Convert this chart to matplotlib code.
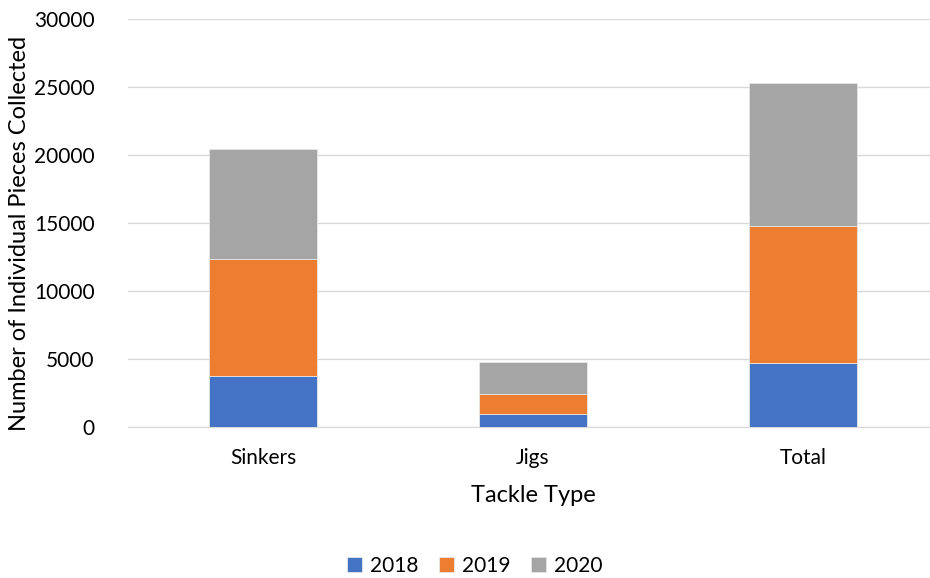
import matplotlib.pyplot as plt
import numpy as np

plt.rcParams['font.family'] = ['Lato', 'DejaVu Sans']

categories = ['Sinkers', 'Jigs', 'Total']
years = ['2018', '2019', '2020']
vals_2018 = [3750, 950, 4700]
vals_2019 = [8630, 1450, 10100]
vals_2020 = [8040, 2400, 10500]
colors = ['#4472C4', '#ED7D31', '#A5A5A5']

fig = plt.figure(figsize=(9.30, 5.78), dpi=100)
ax = fig.add_axes([128 / 930, 1 - 427 / 578, (930 - 128) / 930, (427 - 19) / 578])

x = np.arange(len(categories))
bottom = np.zeros(len(categories))
for year, vals, c in zip(years, [vals_2018, vals_2019, vals_2020], colors):
    ax.bar(x, vals, 0.4, bottom=bottom, color=c, label=year,
           edgecolor='#e6e6e6', linewidth=0.6, zorder=3)
    bottom += np.array(vals)

ax.set_xlim(-0.5, (930 - 263) / 270)
ax.set_ylim(0, 30000)
ax.set_yticks(range(0, 30001, 5000))
ax.set_xticks(x)
ax.set_xticklabels(categories)
ax.yaxis.grid(True, color='#d9d9d9', linewidth=1, zorder=0)
for s in ['top', 'right', 'left']:
    ax.spines[s].set_visible(False)
ax.spines['bottom'].set_color('#d9d9d9')
ax.tick_params(axis='both', length=0, labelsize=15, colors='#000000')
ax.tick_params(axis='y', pad=24)
ax.tick_params(axis='x', pad=15)

ax.set_xlabel('Tackle Type', fontsize=17)
ax.xaxis.set_label_coords((533 - 128) / 802, -(495 - 427) / 408)
ax.xaxis.label.set_va('center')
ax.set_ylabel('Number of Individual Pieces Collected', fontsize=17)
ax.yaxis.set_label_coords(-(128 - 20) / 802, (427 - 233) / 408)
ax.yaxis.label.set_va('center')

fig.legend(loc='center', bbox_to_anchor=(475 / 930, 1 - 566 / 578), ncol=3,
           frameon=False, fontsize=15, handlelength=0.7, handleheight=0.7,
           columnspacing=1.0, handletextpad=0.4)

fig.savefig('out.png', dpi=100)
